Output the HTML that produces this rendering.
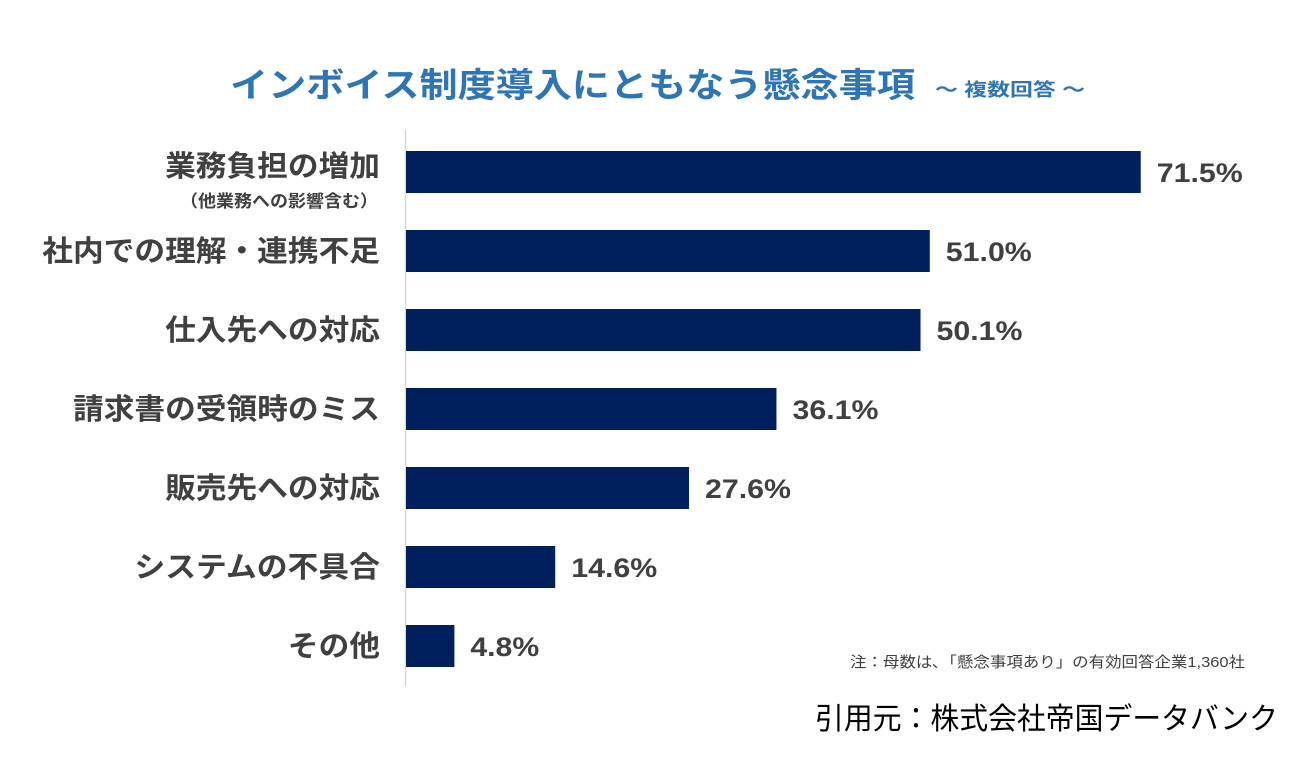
<!DOCTYPE html>
<html><head><meta charset="utf-8"><style>
body{margin:0;background:#fff}
svg{display:block}
text{font-family:"Liberation Sans","Noto Sans CJK JP",sans-serif}
</style></head><body>
<svg id="chart" width="1300" height="760">
<text x="230" y="97" font-size="34" font-weight="bold" fill="#2e75b6" textLength="685" lengthAdjust="spacingAndGlyphs">インボイス制度導入にともなう懸念事項</text>
<text x="935" y="96" font-size="18" font-weight="bold" fill="#2e75b6" textLength="150" lengthAdjust="spacingAndGlyphs">～ 複数回答 ～</text>
<line x1="405.5" y1="130" x2="405.5" y2="686" stroke="#d9d9d9" stroke-width="1.5"/>
<g id="bars"></g>
<text x="850" y="667" font-size="15" fill="#404040" textLength="395" lengthAdjust="spacingAndGlyphs">注：母数は､「懸念事項あり」の有効回答企業1,360社</text>
<text x="815" y="729" font-size="30" fill="#000" textLength="463" lengthAdjust="spacingAndGlyphs">引用元：株式会社帝国データバンク</text>
</svg>
<script>
const categories=["業務負担の増加","社内での理解・連携不足","仕入先への対応","請求書の受領時のミス","販売先への対応","システムの不具合","その他"];
const values=[71.5,51.0,50.1,36.1,27.6,14.6,4.8];
const valueLabels=["71.5%","51.0%","50.1%","36.1%","27.6%","14.6%","4.8%"];
const ns="http://www.w3.org/2000/svg";
const g=document.getElementById("bars");
const x0=405, pxPerPct=10.29, rowTop=151, rowStep=79, barH=42;
function xScale(v){return x0+v*pxPerPct;}
function yScale(i){return rowTop+i*rowStep;}
function mk(tag,attrs){const e=document.createElementNS(ns,tag);for(const k in attrs)e.setAttribute(k,attrs[k]);return e;}
categories.forEach((c,i)=>{
  const y=yScale(i);
  const r=mk("rect",{x:x0+1,y:y,width:xScale(values[i])-x0-1,height:barH,fill:"#001f5c"});
  
  
  g.appendChild(r);
  const lbl=valueLabels[i];
  const v=mk("text",{x:xScale(values[i])+16,y:y+barH/2+10,"font-size":"27","font-weight":"bold",fill:"#404040",textLength:lbl.length*17.2,lengthAdjust:"spacingAndGlyphs"});
  v.textContent=lbl;
  
  
  g.appendChild(v);
  const ly=i===0?y+barH/2+4:y+barH/2+10;
  const l=mk("text",{x:380,y:ly,"font-size":"29","font-weight":"bold",fill:"#404040","text-anchor":"end",textLength:c.length*30.7,lengthAdjust:"spacingAndGlyphs"});
  l.textContent=c;
  
  
  g.appendChild(l);
  if(i===0){
    const s=mk("text",{x:378,y:y+barH+14,"font-size":"17","font-weight":"bold",fill:"#404040","text-anchor":"end",textLength:198,lengthAdjust:"spacingAndGlyphs"});
    s.textContent="（他業務への影響含む）";
    
    
    g.appendChild(s);
  }
});
</script>
</body></html>
